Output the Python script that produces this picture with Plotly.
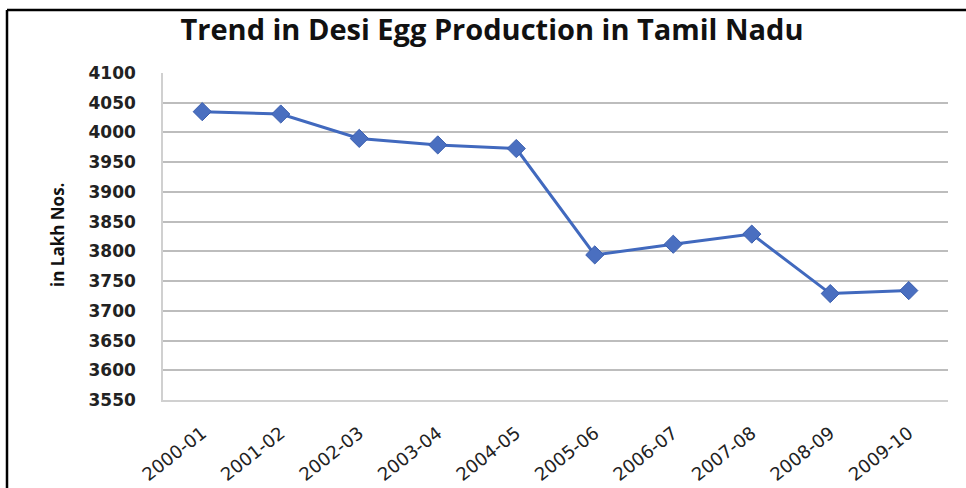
import plotly.graph_objects as go

years = ["2000-01", "2001-02", "2002-03", "2003-04", "2004-05",
         "2005-06", "2006-07", "2007-08", "2008-09", "2009-10"]
production = [4035, 4031, 3990, 3979, 3973, 3794, 3812, 3829, 3729, 3734]
y_ticks = [3550, 3600, 3650, 3700, 3750, 3800, 3850, 3900, 3950, 4000, 4050, 4100]

W, H = 966, 488
L, R, T, B = 163, 18, 73, 88
pw, ph = W - L - R, H - T - B

def px(x):
    return (x - L) / pw

def py(y):
    return (H - B - y) / ph

fig = go.Figure()
fig.add_trace(go.Scatter(
    x=years, y=production, mode="lines+markers",
    line=dict(color="#4169BE", width=3),
    marker=dict(symbol="diamond", size=14, color="#4A6FC0",
                line=dict(color="#3A5EAE", width=1)),
    showlegend=False,
))

fig.update_layout(
    width=W, height=H,
    margin=dict(l=L, r=R, t=T, b=B, autoexpand=False),
    paper_bgcolor="white", plot_bgcolor="white",
    title=dict(text="<b>Trend in Desi Egg Production in Tamil Nadu</b>",
               x=(492 - L) / pw, xref="paper", xanchor="center",
               y=1 - 30 / H, yref="container", yanchor="middle",
               font=dict(family="Open Sans", size=29, color="#111111")),
    font=dict(family="Open Sans", color="#222222"),
)

fig.update_xaxes(
    type="category", showgrid=False, ticks="", automargin=False,
    tickangle=-38, tickfont=dict(family="DejaVu Sans", size=18, color="#222222"),
    showline=True, linecolor="#d0d0d0", linewidth=1.5,
    ticklabelstandoff=14,
    range=[-0.5, len(years) - 0.5],
)
fig.update_yaxes(
    range=[3550, 4100], tickvals=y_ticks, automargin=False,
    ticktext=[f"<b>{v}</b>" for v in y_ticks],
    tickfont=dict(family="DejaVu Sans", size=17, color="#222222"),
    showgrid=True, gridcolor="#bdbdbd", gridwidth=1.5,
    showline=True, linecolor="#d0d0d0", linewidth=1.5,
    ticklabelstandoff=22, zeroline=False,
)

fig.add_annotation(
    text="<b>in Lakh Nos.</b>", textangle=-90,
    x=px(57), y=py(235), xref="paper", yref="paper",
    showarrow=False, font=dict(family="Open Sans", size=17, color="#111111"),
    xanchor="center", yanchor="middle",
)

# outer frame (top and left visible)
fig.add_shape(type="line", xref="paper", yref="paper",
              x0=px(7), x1=px(970), y0=py(10), y1=py(10),
              line=dict(color="black", width=2.5))
fig.add_shape(type="line", xref="paper", yref="paper",
              x0=px(7), x1=px(7), y0=py(10), y1=py(495),
              line=dict(color="black", width=2.5))

fig.write_html("out.html")
